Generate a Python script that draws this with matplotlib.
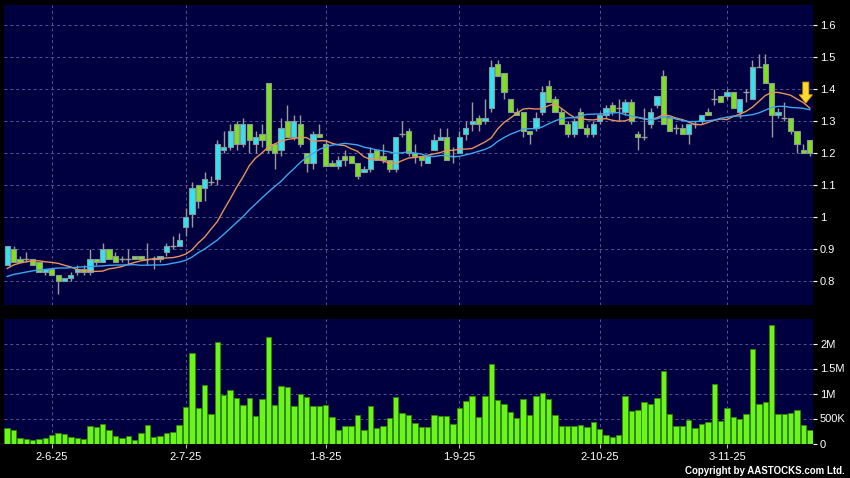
import numpy as np
import pandas as pd
import matplotlib
matplotlib.use("Agg")
import matplotlib.pyplot as plt
from matplotlib.transforms import offset_copy
from matplotlib.ticker import FuncFormatter

plt.rcParams['font.family'] = ['Liberation Sans', 'DejaVu Sans']

# daily candles (trading days 22-May-2025 .. 20-Nov-2025)
opens = [0.85, 0.90, 0.87, 0.87, 0.87, 0.86, 0.83, 0.84, 0.82, 0.80,
         0.81, 0.83, 0.84, 0.83, 0.87, 0.86, 0.90, 0.88, 0.87, 0.87,
         0.88, 0.88, 0.87, 0.87, 0.87, 0.89, 0.91, 0.91, 0.97, 1.01,
         1.10, 1.09, 1.11, 1.12, 1.21, 1.22, 1.29, 1.23, 1.29, 1.23,
         1.26, 1.42, 1.23, 1.21, 1.30, 1.25, 1.29, 1.20, 1.17, 1.26,
         1.23, 1.17, 1.16, 1.19, 1.19, 1.17, 1.14, 1.15, 1.21, 1.19,
         1.18, 1.15, 1.26, 1.27, 1.20, 1.19, 1.17, 1.21, 1.24, 1.25,
         1.19, 1.20, 1.26, 1.29, 1.31, 1.30, 1.34, 1.48, 1.45, 1.37,
         1.33, 1.33, 1.27, 1.28, 1.33, 1.41, 1.37, 1.33, 1.29, 1.26,
         1.33, 1.28, 1.26, 1.30, 1.32, 1.35, 1.34, 1.33, 1.36, 1.26,
         1.25, 1.29, 1.35, 1.44, 1.31, 1.28, 1.28, 1.26, 1.29, 1.30,
         1.33, 1.37, 1.38, 1.38, 1.39, 1.33, 1.39, 1.37, 1.47, 1.48,
         1.42, 1.32, 1.31, 1.31, 1.27, 1.21, 1.24]
highs = [0.91, 0.91, 0.88, 0.89, 0.87, 0.86, 0.84, 0.84, 0.82, 0.81,
         0.83, 0.85, 0.85, 0.90, 0.87, 0.92, 0.90, 0.89, 0.88, 0.90,
         0.88, 0.88, 0.92, 0.88, 0.88, 0.92, 0.94, 0.95, 1.03, 1.11,
         1.10, 1.14, 1.13, 1.24, 1.27, 1.29, 1.30, 1.31, 1.29, 1.27,
         1.29, 1.42, 1.23, 1.31, 1.35, 1.32, 1.32, 1.20, 1.27, 1.29,
         1.24, 1.18, 1.19, 1.21, 1.19, 1.17, 1.16, 1.22, 1.21, 1.23,
         1.18, 1.25, 1.30, 1.28, 1.23, 1.19, 1.19, 1.26, 1.28, 1.28,
         1.22, 1.27, 1.30, 1.36, 1.32, 1.37, 1.49, 1.49, 1.45, 1.37,
         1.34, 1.33, 1.27, 1.33, 1.41, 1.43, 1.38, 1.34, 1.30, 1.31,
         1.34, 1.29, 1.30, 1.33, 1.35, 1.36, 1.37, 1.37, 1.37, 1.27,
         1.34, 1.34, 1.38, 1.46, 1.31, 1.29, 1.29, 1.29, 1.30, 1.32,
         1.34, 1.40, 1.38, 1.40, 1.39, 1.37, 1.40, 1.49, 1.51, 1.51,
         1.42, 1.34, 1.36, 1.31, 1.27, 1.23, 1.24]
lows = [0.85, 0.86, 0.86, 0.86, 0.85, 0.83, 0.82, 0.82, 0.76, 0.80,
        0.80, 0.82, 0.82, 0.82, 0.85, 0.86, 0.87, 0.86, 0.86, 0.85,
        0.87, 0.87, 0.85, 0.84, 0.86, 0.88, 0.90, 0.91, 0.94, 0.97,
        1.03, 1.05, 1.10, 1.10, 1.20, 1.21, 1.21, 1.22, 1.20, 1.20,
        1.22, 1.20, 1.15, 1.19, 1.25, 1.24, 1.22, 1.14, 1.15, 1.25,
        1.16, 1.16, 1.15, 1.16, 1.17, 1.12, 1.14, 1.14, 1.18, 1.17,
        1.14, 1.14, 1.25, 1.19, 1.17, 1.16, 1.17, 1.21, 1.24, 1.18,
        1.17, 1.20, 1.24, 1.27, 1.27, 1.29, 1.33, 1.44, 1.37, 1.33,
        1.32, 1.25, 1.23, 1.27, 1.32, 1.36, 1.33, 1.29, 1.25, 1.25,
        1.28, 1.25, 1.25, 1.29, 1.31, 1.32, 1.30, 1.32, 1.29, 1.21,
        1.24, 1.28, 1.34, 1.29, 1.27, 1.26, 1.26, 1.23, 1.28, 1.29,
        1.32, 1.35, 1.36, 1.37, 1.34, 1.31, 1.36, 1.37, 1.47, 1.42,
        1.25, 1.31, 1.30, 1.26, 1.20, 1.20, 1.19]
closes = [0.91, 0.86, 0.86, 0.87, 0.85, 0.83, 0.84, 0.82, 0.80, 0.81,
          0.82, 0.84, 0.83, 0.87, 0.86, 0.90, 0.87, 0.86, 0.87, 0.87,
          0.87, 0.87, 0.87, 0.87, 0.88, 0.91, 0.91, 0.93, 1.00, 1.09,
          1.05, 1.12, 1.11, 1.23, 1.22, 1.27, 1.23, 1.29, 1.24, 1.25,
          1.24, 1.21, 1.20, 1.28, 1.25, 1.30, 1.23, 1.17, 1.26, 1.25,
          1.16, 1.16, 1.18, 1.18, 1.17, 1.13, 1.15, 1.20, 1.18, 1.18,
          1.15, 1.25, 1.26, 1.20, 1.19, 1.18, 1.19, 1.24, 1.25, 1.18,
          1.19, 1.25, 1.28, 1.30, 1.29, 1.31, 1.47, 1.44, 1.39, 1.33,
          1.32, 1.27, 1.26, 1.31, 1.39, 1.36, 1.33, 1.29, 1.26, 1.30,
          1.28, 1.26, 1.29, 1.32, 1.34, 1.33, 1.34, 1.36, 1.30, 1.25,
          1.25, 1.33, 1.38, 1.29, 1.27, 1.28, 1.26, 1.29, 1.29, 1.32,
          1.32, 1.37, 1.36, 1.39, 1.34, 1.37, 1.39, 1.47, 1.47, 1.42,
          1.32, 1.33, 1.31, 1.27, 1.23, 1.20, 1.20]
# volume in thousands of shares
volumes_k = [320, 267, 120, 100, 80, 87, 107, 167, 207, 187,
             133, 107, 93, 353, 333, 400, 267, 147, 107, 160,
             67, 207, 367, 140, 153, 220, 240, 367, 727, 1813,
             707, 1167, 587, 2040, 973, 1080, 913, 780, 913, 553,
             887, 2133, 780, 1147, 1140, 747, 1000, 933, 747, 747,
             780, 533, 267, 360, 347, 573, 280, 760, 313, 360,
             513, 933, 607, 580, 407, 327, 333, 573, 553, 553,
             393, 720, 853, 953, 533, 953, 1587, 867, 793, 640,
             520, 887, 580, 960, 1007, 893, 580, 347, 360, 347,
             380, 333, 427, 287, 180, 133, 167, 960, 653, 680,
             827, 787, 920, 1453, 587, 360, 347, 480, 320, 400,
             427, 1200, 453, 707, 527, 493, 593, 1900, 793, 827,
             2367, 593, 600, 620, 680, 373, 267]
# closes before the first shown day (only used to start the moving averages)
prior_closes = [0.78, 0.79, 0.78, 0.80, 0.79, 0.80, 0.79, 0.78, 0.80, 0.79,
                0.80, 0.80, 0.82, 0.84, 0.85, 0.86, 0.86, 0.85, 0.86, 0.86]

tick_idx = [7, 28, 50, 71, 93, 113]
tick_labels = ["2-6-25", "2-7-25", "1-8-25", "1-9-25", "2-10-25", "3-11-25"]
price_ticks = [0.8, 0.9, 1.0, 1.1, 1.2, 1.3, 1.4, 1.5, 1.6]
vol_ticks = [0, 500000, 1000000, 1500000, 2000000]
vol_tick_labels = ["0", "500K", "1M", "1.5M", "2M"]

# colours
BG = "#000040"
GRID = "#55558a"
CYAN = "#30e4f2"
GREEN = "#7fe01e"
EDGE = "#8a9898"
WICK = "#9a9a9a"
VOLG = "#6cf51a"
ORANGE = "#e8925c"
BLUE = "#3ea6f0"

o = np.array(opens)
h = np.array(highs)
l = np.array(lows)
c = np.array(closes)
vol = np.array(volumes_k) * 1000
x = np.arange(len(c))

# averages of the previous 10 / 20 closes
s = pd.Series(prior_closes + closes)
ma10 = s.rolling(10).mean().shift(1).to_numpy()[len(prior_closes):]
ma20 = s.rolling(20).mean().shift(1).to_numpy()[len(prior_closes):]

fig = plt.figure(figsize=(8.5, 4.78), dpi=100, facecolor="black")
ax = fig.add_axes([4 / 850, 1 - 305 / 478, 809 / 850, 300 / 478])
ax2 = fig.add_axes([4 / 850, 1 - 443.5 / 478, 809 / 850, 124.5 / 478])

for a in (ax, ax2):
    a.set_facecolor(BG)
    for sp in a.spines.values():
        sp.set_visible(False)
    a.set_xlim(-0.5, len(c) - 0.5)
    a.set_xticks(tick_idx)
    a.grid(True, color=GRID, linestyle=(0, (3, 3)), linewidth=0.7)
    a.set_axisbelow(True)
    a.yaxis.tick_right()
    a.tick_params(axis="y", colors="white", labelcolor="white", labelsize=8,
                  length=3, width=0.8, pad=2)

# candles
up = c > o
dn = c < o
flat = c == o
ax.vlines(x, l, h, color=WICK, linewidth=1, zorder=2)
ax.bar(x[up], (c - o)[up], bottom=o[up], width=0.82, color=CYAN,
       edgecolor=EDGE, linewidth=0.8, zorder=3)
ax.bar(x[dn], (o - c)[dn], bottom=c[dn], width=0.82, color=GREEN,
       edgecolor=EDGE, linewidth=0.8, zorder=3)
ax.hlines(c[flat], x[flat] - 0.45, x[flat] + 0.45, color=WICK, linewidth=1, zorder=3)

ax.plot(x, ma10, color=ORANGE, linewidth=1, zorder=4)
ax.plot(x, ma20, color=BLUE, linewidth=1, zorder=4)

# down arrow above the end of the averages
tip = offset_copy(ax.transData, fig=fig, x=-4, y=5, units="dots")
ax.annotate("", xy=(x[-1], ma10[-1]), xycoords=tip,
            xytext=(0, 21), textcoords="offset pixels",
            arrowprops=dict(facecolor="#ffd92e", edgecolor="#e0a200",
                            width=4.3, headwidth=9.5, headlength=6, linewidth=0.6),
            zorder=6)

ax.set_ylim(0.726, 1.663)
ax.set_yticks(price_ticks)
ax.yaxis.set_major_formatter(FuncFormatter(lambda v, p: "%g" % round(v, 1)))
ax.tick_params(axis="x", length=0, labelbottom=False)

# volume
ax2.bar(x, vol, width=0.85, color=VOLG, edgecolor="#2f8a00", linewidth=0.6, zorder=3)
ax2.set_ylim(0, 2.49e6)
ax2.set_yticks(vol_ticks)
ax2.set_yticklabels(vol_tick_labels)
ax2.set_xticklabels(tick_labels)
ax2.tick_params(axis="x", colors="#bbbbbb", labelcolor="white", labelsize=8,
                length=3, width=0.8, pad=3)

fig.text(845 / 850, 2 / 478, "Copyright by AASTOCKS.com Ltd.", ha="right", va="bottom",
         color="white", fontsize=7, fontweight="bold")

fig.savefig("out.png", dpi=100, facecolor="black")
